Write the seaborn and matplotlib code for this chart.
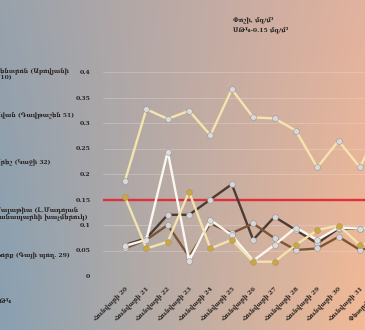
import numpy as np
import matplotlib
matplotlib.use("Agg")
import matplotlib.pyplot as plt
import seaborn as sns

# Dates of measurement (the last one runs off the right edge of the sheet)
dates = ["Հունվարի 20", "Հունվարի 21", "Հունվարի 22", "Հունվարի 23",
         "Հունվարի 24", "Հունվարի 25", "Հունվարի 26", "Հունվարի 27",
         "Հունվարի 28", "Հունվարի 29", "Հունվարի 30", "Հունվարի 31",
         "Փետրվարի 1"]

# Station names (legend, left column)
station_names = [
    "Կենտրոն (Աբովյանի\n5/10)",
    "Ավան (Դավթաշեն 51)",
    "Արեշ (Կաջի 32)",
    "Մալաթիա (Լ.Մադոյան\nճանապարհի խաչմերուկ)",
    "Նորք (Գայի պող. 29)",
    "ՍԹԿ",
]

# Dust concentration, mg/m³
dust_center = [0.187, 0.327, 0.308, 0.324, 0.276, 0.366, 0.311, 0.309,
               0.285, 0.213, 0.265, 0.213, 0.300]
dust_avan = [0.061, 0.074, 0.120, 0.120, 0.150, 0.180, 0.071, 0.116,
             0.090, 0.064, 0.093, 0.093, 0.095]
dust_aresh = [0.054, 0.071, 0.100, 0.038, 0.103, 0.084, 0.103, 0.074,
              0.051, 0.054, 0.077, 0.051, 0.060]
dust_malatia = [0.059, 0.071, 0.244, 0.030, 0.110, 0.080, 0.030, 0.061,
                0.095, 0.071, 0.095, 0.093, 0.095]
dust_nork = [0.155, 0.054, 0.067, 0.165, 0.054, 0.071, 0.028, 0.028,
             0.061, 0.090, 0.099, 0.061, 0.070]
mpc_value = 0.15

title_lines = ["Փոշի, մգ/մ³", "ՍԹԿ-0.15 մգ/մ³"]
y_ticks = [0, 0.05, 0.1, 0.15, 0.2, 0.25, 0.3, 0.35, 0.4]

sns.set_theme(style="white")
plt.rcParams["font.family"] = ["DejaVu Serif", "DejaVu Sans"]
text_color = "#2b2523"

W, H = 365, 330
fig = plt.figure(figsize=(W / 100, H / 100), dpi=100)

# Warm/cool backdrop
bg = fig.add_axes([0, 0, 1, 1], zorder=0)
yy, xx = np.mgrid[0:1:H * 1j, 0:1:W * 1j]
tl = np.array([152, 162, 172]) / 255
tr = np.array([226, 178, 158]) / 255
bl = np.array([136, 160, 178]) / 255
br = np.array([242, 186, 150]) / 255
img = (tl * ((1 - xx) * (1 - yy))[..., None] + tr * (xx * (1 - yy))[..., None]
       + bl * ((1 - xx) * yy)[..., None] + br * (xx * yy)[..., None])
bg.imshow(np.clip(img, 0, 1), aspect="auto", extent=[0, 1, 0, 1])
bg.axis("off")

# Plot area
step = 21.36
x_left = -1.03
x_right = 12.5
ax = fig.add_axes([103 / W, 54 / H, (x_right - x_left) * step / W, 204 / H],
                  zorder=1)
ax.patch.set_alpha(0)

ax.axhline(mpc_value, color="#e0303a", lw=1.7, zorder=2)

series = [
    (dust_center, "#f4e4ae", "#d9d9db"),
    (dust_avan, "#4b3b33", "#d6d6da"),
    (dust_aresh, "#7c5536", "#d6d6da"),
    (dust_malatia, "#faf7f0", "#dcdcdf"),
    (dust_nork, "#f1e3ad", "#d2a632"),
]
for vals, line_c, mark_c in series:
    sns.lineplot(x=np.arange(len(vals)), y=vals, ax=ax, color=line_c,
                 lw=1.7, marker="o", markersize=4.2,
                 markerfacecolor=mark_c, markeredgecolor="#9a948f",
                 markeredgewidth=0.4, legend=False, zorder=3)

ax.set_xlim(x_left, x_right)
ax.set_ylim(0, 0.4)
ax.set_yticks(y_ticks)
ax.set_yticklabels([f"{v:g}" for v in y_ticks], fontsize=4.5,
                   weight="bold", color=text_color)
ax.set_xticks(range(len(dates)))
ax.set_xticklabels(dates, rotation=45, ha="right", rotation_mode="anchor",
                   fontsize=4.3, weight="bold", color=text_color)
ax.tick_params(axis="y", length=0, pad=9)
ax.tick_params(axis="x", length=0, pad=7)
ax.yaxis.grid(True, color="#f2e6e0", alpha=0.35, lw=0.6)
ax.xaxis.grid(False)
ax.set_xlabel("")
ax.set_ylabel("")
for s in ax.spines.values():
    s.set_visible(False)

# Title block
fig.text(233 / W, 1 - 20 / H, title_lines[0], fontsize=4.4, weight="bold",
         color=text_color, va="center", ha="left")
fig.text(233 / W, 1 - 30 / H, title_lines[1], fontsize=4.4, weight="bold",
         color=text_color, va="center", ha="left")

# Legend column on the left
legend_y = [74.5, 115.7, 163.3, 214, 255, 301.7]
for name, ypx in zip(station_names, legend_y):
    fig.text(-5 / W, 1 - ypx / H, name, fontsize=4.3, weight="bold",
             color=text_color, va="center", ha="left", linespacing=1.1)

fig.savefig("out.png", dpi=100)
